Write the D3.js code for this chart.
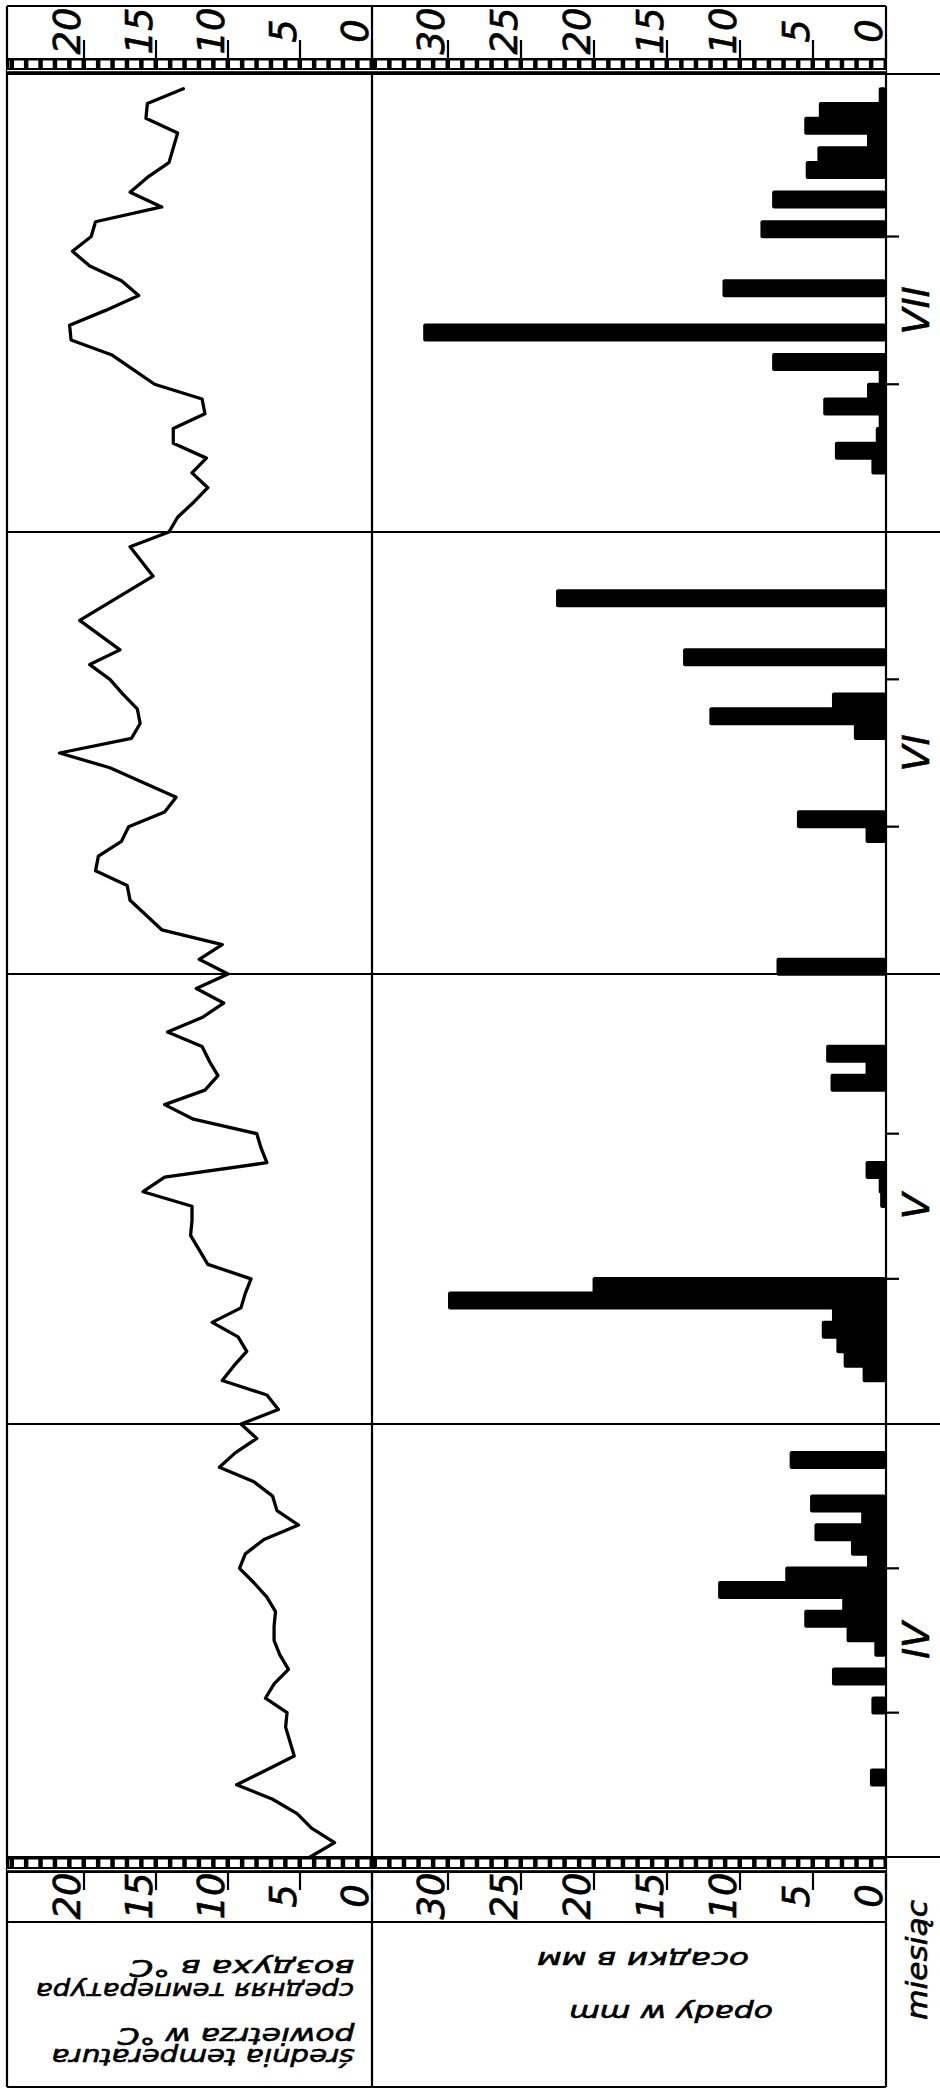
<!DOCTYPE html>
<html>
<head>
<meta charset="utf-8">
<script src="https://cdn.jsdelivr.net/npm/d3@7"></script>
<style>
  body { margin: 0; background: #fff; }
  svg text { font-family: "DejaVu Sans", sans-serif; font-style: italic; fill: #000; stroke: #000; stroke-width: 0.6px; }
</style>
</head>
<body>
<div id="chart"></div>
<script>
// daily values, 1 IV .. 31 VII
const months = ["IV", "V", "VI", "VII"];
const monthStart = [0, 30, 61, 91, 122];

const tempIV = [4.3, 2.6, 4.2, 5.2, 6.9, 9.4, 7.4, 5.4, 5.7, 6.0, 5.9, 7.4, 6.8, 5.8, 6.4,
  6.8, 6.8, 6.7, 7.3, 8.2, 9.2, 8.8, 7.5, 5.1, 6.6, 6.9, 8.2, 10.6, 9.5, 8.0];
const tempV = [9.1, 6.5, 7.3, 10.4, 9.6, 8.7, 9.3, 11.1, 9.1, 8.8, 8.4, 11.4, 12.0, 12.6, 12.5,
  12.5, 15.9, 14.4, 7.3, 7.7, 8.0, 12.4, 14.4, 11.6, 10.7, 11.3, 11.8, 14.2, 11.8, 10.3, 12.2];
const tempVI = [10.0, 12.0, 10.4, 14.6, 15.7, 16.8, 17.0, 19.2, 19.0, 17.4, 16.9, 14.4, 13.6, 15.9, 18.2,
  21.7, 16.7, 16.1, 16.3, 17.3, 18.2, 19.6, 17.5, 18.9, 20.3, 18.6, 16.9, 15.2, 16.0, 16.8];
const tempVII = [14.1, 13.5, 12.4, 11.4, 12.5, 11.5, 13.8, 13.8, 11.6, 11.8, 15.1, 16.6, 18.1, 20.9, 21.0,
  18.5, 16.2, 17.4, 19.6, 20.8, 19.5, 19.2, 14.6, 16.8, 15.6, 14.1, 13.8, 13.5, 15.7, 15.6, 13.1];

const rainIV = [0, 0, 0, 0, 0, 1.1, 0, 0, 0, 0, 1.0, 0, 3.7, 0, 0.8,
  2.7, 5.6, 3.0, 11.5, 6.9, 1.3, 2.4, 4.9, 1.7, 5.2, 0, 0, 6.6, 0, 0];
const rainV = [0, 0, 0, 1.6, 2.9, 3.4, 4.4, 3.7, 30.0, 20.1, 0, 0, 0, 0, 0,
  0.4, 0.5, 1.4, 0, 0, 0, 0, 0, 3.8, 1.4, 4.1, 0, 0, 0, 0, 0];
const rainVI = [7.5, 0, 0, 0, 0, 0, 0, 0, 0, 1.4, 6.1, 0, 0, 0, 0,
  0, 2.2, 12.1, 3.7, 0, 0, 13.9, 0, 0, 0, 22.6, 0, 0, 0, 0];
const rainVII = [0, 0, 0, 0, 1.0, 3.5, 0.7, 0.5, 4.3, 1.3, 0.5, 7.8, 0, 31.7, 0,
  0, 11.2, 0, 0, 0, 8.6, 0, 7.8, 0, 5.5, 4.7, 1.3, 5.6, 4.6, 0.5, 0];

const tempTicks = [0, 5, 10, 15, 20];
const rainTicks = [0, 5, 10, 15, 20, 25, 30];

const W = 940, H = 2091;
const fLeft = 7, fMid = 372, fRight = 886, fTop = 6, fBottom = 2087, labelLine = 1922;

const svg = d3.select("#chart")
  .append("svg")
    .attr("width", W)
    .attr("height", H);

// time runs upward, one scale segment per month
const y = d3.scaleLinear().domain(monthStart).range([1857, 1424, 974, 532, 74]);
const xT = d3.scaleLinear().domain([0, 20]).range([fMid, 84]);
const xR = d3.scaleLinear().domain([0, 30]).range([fRight, 448]);

const temps = [].concat(tempIV, tempV, tempVI, tempVII).map((t, i) => ({day: i, t}));
const rain = [].concat(rainIV, rainV, rainVI, rainVII).map((v, i) => ({day: i, v}));

// precipitation bars
svg.selectAll(".bar")
  .data(rain.filter(d => d.v > 0))
  .join("rect")
    .attr("class", "bar")
    .attr("x", d => xR(d.v))
    .attr("width", d => fRight - xR(d.v))
    .attr("y", d => y(d.day + 0.5) - 9)
    .attr("height", 18)
    .attr("rx", 2)
    .attr("fill", "#000");

// temperature line
svg.append("path")
  .datum(temps)
  .attr("fill", "none")
  .attr("stroke", "#000")
  .attr("stroke-width", 3.3)
  .attr("stroke-linejoin", "round")
  .attr("stroke-linecap", "round")
  .attr("d", d3.line().x(d => xT(d.t)).y(d => y(d.day)));

// frame
const line = (x1, y1, x2, y2, w) => svg.append("line")
  .attr("x1", x1).attr("y1", y1).attr("x2", x2).attr("y2", y2)
  .attr("stroke", "#000").attr("stroke-width", w || 2.2);

line(fLeft, fTop, fRight, fTop);
line(fLeft, fTop, fLeft, fBottom);
line(fMid, fTop, fMid, fBottom);
line(fRight, fTop, fRight, fBottom);
line(fLeft, fBottom, fRight, fBottom);
line(fLeft, labelLine, fRight, labelLine);

// month boundaries
monthStart.forEach(s => line(fLeft, y(s), W, y(s)));

// ten-day ticks and month names
monthStart.slice(0, 4).forEach((s, i) => {
  line(fRight, y(s + 10), fRight + 13, y(s + 10));
  line(fRight, y(s + 20), fRight + 13, y(s + 20));
  svg.append("text")
    .attr("transform", `translate(929,${y(s + 15)}) rotate(-90)`)
    .attr("text-anchor", "middle")
    .style("font-size", "38px")
    .text(months[i]);
});

// scale strips with one cell per unit
function strip(y0) {
  const g = svg.append("g");
  g.append("rect")
    .attr("x", fLeft).attr("y", y0)
    .attr("width", fRight - fLeft).attr("height", 16)
    .attr("fill", "#000");
  const cells = d3.range(0, 26).map(i => [Math.max(xT(i + 1), fLeft), xT(i)])
    .concat(d3.range(0, 36).map(i => [Math.max(xR(i + 1), fMid), xR(i)]));
  g.selectAll(".cell")
    .data(cells)
    .join("rect")
      .attr("x", d => d[0] + 2)
      .attr("width", d => Math.max(0, d[1] - d[0] - 4.5))
      .attr("y", y0 + 2.5)
      .attr("height", 7.5)
      .attr("fill", "#fff");
  g.append("rect")
    .attr("x", fLeft).attr("y", y0 + 12)
    .attr("width", fRight - fLeft).attr("height", 1.2)
    .attr("fill", "#fff");
}
strip(58);
strip(1857);

// major ticks and their numbers
const ticks = tempTicks.map(v => ({v, x: xT(v)}))
  .concat(rainTicks.map(v => ({v, x: xR(v)})));

ticks.forEach(d => {
  line(d.x, 40, d.x, 58);
  line(d.x, 1873, d.x, 1890);
  [31, 1896].forEach(cy => {
    svg.append("text")
      .attr("transform", `translate(${d.x - 4},${cy}) rotate(-90)`)
      .attr("text-anchor", "middle")
      .style("font-size", "37px")
      .text(d.v);
  });
});

// header labels (drawn upside down as in the original sheet)
const headers = [
  {text: "średnia temperatura", cx: 203, cy: 2057, len: 303},
  {text: "powietrza w °C", cx: 236, cy: 2036, len: 237},
  {text: "средняя температура", cx: 195, cy: 1991, len: 318},
  {text: "воздуха в °C", cx: 242, cy: 1968, len: 225},
  {text: "осадки в мм", cx: 643, cy: 1960, len: 212},
  {text: "opady w mm", cx: 671, cy: 2013, len: 204}
];
headers.forEach(h => {
  svg.append("text")
    .attr("transform", `translate(${h.cx},${h.cy}) rotate(180)`)
    .attr("text-anchor", "middle")
    .attr("dominant-baseline", "central")
    .attr("textLength", h.len)
    .attr("lengthAdjust", "spacingAndGlyphs")
    .style("font-size", "23px")
    .text(h.text);
});

svg.append("text")
  .attr("transform", "translate(917,1960) rotate(-90)")
  .attr("text-anchor", "middle")
  .attr("dominant-baseline", "central")
  .attr("textLength", 120)
  .attr("lengthAdjust", "spacingAndGlyphs")
  .style("font-size", "28px")
  .text("miesiąc");
</script>
</body>
</html>
